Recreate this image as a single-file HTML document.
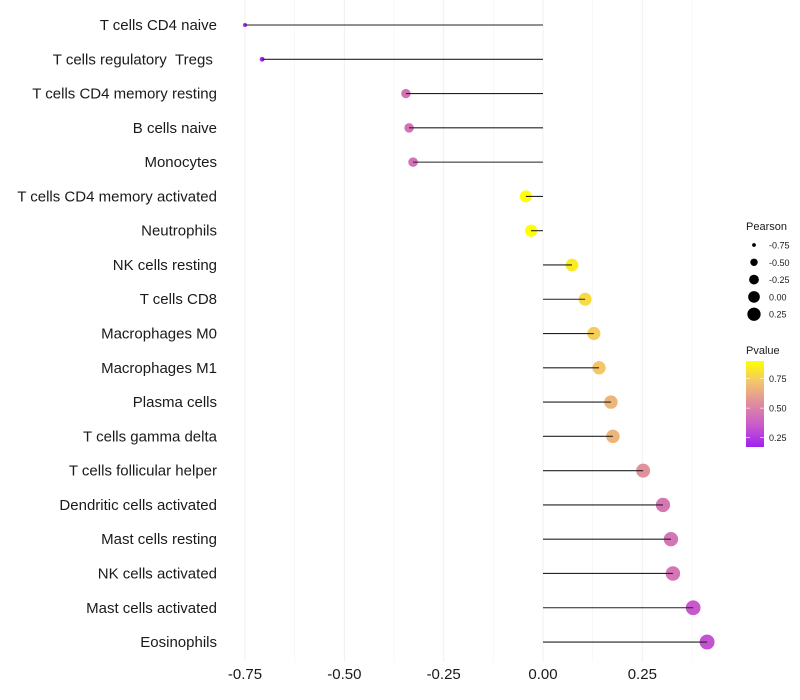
<!DOCTYPE html>
<html><head><meta charset="utf-8"><style>
body{margin:0;background:#fff;font-family:"Liberation Sans",sans-serif}
svg{display:block}
</style></head><body>
<svg id="c" width="800" height="700"></svg>
<script>
const categories=["T cells CD4 naive","T cells regulatory\u00a0\u00a0Tregs\u00a0","T cells CD4 memory resting","B cells naive","Monocytes","T cells CD4 memory activated","Neutrophils","NK cells resting","T cells CD8","Macrophages M0","Macrophages M1","Plasma cells","T cells gamma delta","T cells follicular helper","Dendritic cells activated","Mast cells resting","NK cells activated","Mast cells activated","Eosinophils"];
const pearson=[-0.75,-0.707,-0.345,-0.337,-0.327,-0.043,-0.030,0.073,0.106,0.128,0.141,0.171,0.176,0.252,0.302,0.322,0.327,0.378,0.413];
const pvalue=[0.18,0.19,0.44,0.44,0.44,0.9,0.9,0.84,0.79,0.75,0.73,0.67,0.67,0.55,0.46,0.45,0.45,0.35,0.33];
const xTicks=[-0.75,-0.5,-0.25,0,0.25];
const xTickLabels=["-0.75","-0.50","-0.25","0.00","0.25"];
const sizeLegendVals=[-0.75,-0.5,-0.25,0,0.25];
const sizeLegendLabels=["-0.75","-0.50","-0.25","0.00","0.25"];
const pLegendTicks=[0.25,0.5,0.75];
const pLegendLabels=["0.25","0.50","0.75"];

const NS="http://www.w3.org/2000/svg";
const svgRoot=document.getElementById('c');
function el(t,a,p){const e=document.createElementNS(NS,t);for(const k in a)e.setAttribute(k,a[k]);(p||svgRoot).appendChild(e);return e;}
const xs=v=>543+v*397.3;
const ys=i=>25+i*34.28;
const rs=v=>Math.sqrt(Math.max(2,37.6+44.8*v));
const pmin=0.17,pmax=0.9;
const stops=[[160,32,240],[200,90,205],[222,140,160],[243,195,110],[255,255,0]];
function col(p){
  let t=(p-pmin)/(pmax-pmin);t=Math.max(0,Math.min(1,t));
  const f=t*4;const i=Math.min(3,Math.floor(f));const u=f-i;
  const a=stops[i],b=stops[i+1];
  return `rgb(${a.map((c,k)=>Math.round(c+(b[k]-c)*u)).join(',')})`;
}
for(let v=-0.75;v<=0.40;v+=0.125){
  const g=el('line',{x1:xs(v),x2:xs(v),y1:0,y2:662,stroke:'#f0f0f0','stroke-width':Math.abs((v*4)%1)<0.01?1:0.5});
  
  
}
categories.forEach((c,i)=>{
  const t=el('text',{x:217,y:ys(i)+5,'text-anchor':'end','font-size':15,fill:'#1a1a1a'});
  t.textContent=c;
  
  
  const pt=el('circle',{cx:xs(pearson[i]),cy:ys(i),r:rs(pearson[i]),fill:col(pvalue[i])});
  
  
  const ln=el('line',{x1:xs(0),x2:xs(pearson[i]),y1:ys(i),y2:ys(i),stroke:'#222','stroke-width':1.1});
  
  
});
xTicks.forEach((v,i)=>{
  const t=el('text',{x:xs(v),y:679,'text-anchor':'middle','font-size':15,fill:'#1a1a1a'});
  t.textContent=xTickLabels[i];
  
  
});
let lt=el('text',{x:746,y:230,'font-size':11,fill:'#1a1a1a'});lt.textContent='Pearson';


sizeLegendVals.forEach((v,i)=>{
  const cy=245+i*17.3;
  const c=el('circle',{cx:754,cy:cy,r:rs(v)*0.95,fill:'#000'});
  
  
  const t=el('text',{x:769,y:cy+3.5,'font-size':9,fill:'#1a1a1a'});t.textContent=sizeLegendLabels[i];
  
  
});
lt=el('text',{x:746,y:354,'font-size':11,fill:'#1a1a1a'});lt.textContent='Pvalue';


const defs=el('defs',{});
const lg=el('linearGradient',{id:'pg',x1:0,y1:1,x2:0,y2:0},defs);
for(let k=0;k<=20;k++){el('stop',{offset:k/20,'stop-color':col(pmin+(pmax-pmin)*k/20)},lg);}
const ptop=361,pbot=447;
const py=p=>pbot-(p-pmin)/(pmax-pmin)*(pbot-ptop);
const bar=el('rect',{x:746,y:ptop,width:18,height:pbot-ptop,fill:'url(#pg)'});


pLegendTicks.forEach((p,i)=>{
  el('line',{x1:746,x2:750,y1:py(p),y2:py(p),stroke:'#fff','stroke-width':0.6});
  el('line',{x1:760,x2:764,y1:py(p),y2:py(p),stroke:'#fff','stroke-width':0.6});
  const t=el('text',{x:769,y:py(p)+3.5,'font-size':9,fill:'#1a1a1a'});t.textContent=pLegendLabels[i];
  
  
});
</script>
</body></html>
